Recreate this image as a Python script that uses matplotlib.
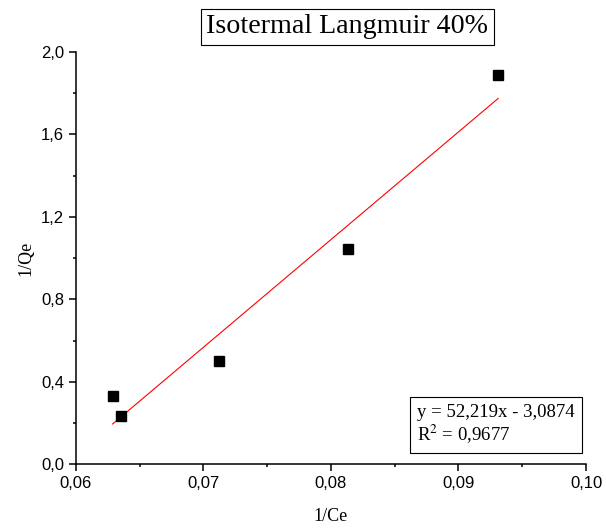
import matplotlib
matplotlib.use("Agg")
import matplotlib.pyplot as plt
import numpy as np
from matplotlib.ticker import MultipleLocator, FuncFormatter

plt.rcParams["mathtext.fontset"] = "stix"

# data
inv_ce = [0.06287, 0.06350, 0.07119, 0.08137, 0.09311]
inv_qe = [0.333, 0.236, 0.503, 1.044, 1.888]

# linear fit shown in the box
slope = 52.219
intercept = -3.0874
r2 = 0.9677

fig = plt.figure(figsize=(6.06, 5.29), dpi=100)
ax = fig.add_axes([0.1254, 0.1223, 0.8416, 0.7794])

ax.plot(inv_ce, inv_qe, "s", color="black", markersize=6.5, zorder=3)

fit_x = np.array([min(inv_ce), max(inv_ce)])
ax.plot(fit_x, slope * fit_x + intercept, color="red", linewidth=0.8)

ax.set_xlim(0.06, 0.10)
ax.set_ylim(0.0, 2.0)
ax.xaxis.set_major_locator(MultipleLocator(0.01))
ax.xaxis.set_minor_locator(MultipleLocator(0.005))
ax.yaxis.set_major_locator(MultipleLocator(0.4))
ax.yaxis.set_minor_locator(MultipleLocator(0.2))
ax.xaxis.set_major_formatter(FuncFormatter(lambda v, p: f"{v:.2f}".replace(".", ",")))
ax.yaxis.set_major_formatter(FuncFormatter(lambda v, p: f"{v:.1f}".replace(".", ",")))

for s in ["top", "right"]:
    ax.spines[s].set_visible(False)
for s in ["left", "bottom"]:
    ax.spines[s].set_linewidth(1.1)

ax.tick_params(which="major", direction="out", length=5, width=1.1)
ax.tick_params(which="minor", direction="out", length=2.5, width=1.1)
for lbl in ax.get_xticklabels() + ax.get_yticklabels():
    lbl.set_fontfamily("Liberation Sans")
    lbl.set_fontsize(12)

ax.set_xlabel("1/Ce", fontfamily="Liberation Serif", fontsize=13, labelpad=12)
ax.set_ylabel("1/Qe", fontfamily="Liberation Serif", fontsize=13, labelpad=5)

fig.text(0.573, 0.949, "Isotermal Langmuir 40%", fontfamily="Liberation Serif",
         fontsize=20.2, ha="center", va="center",
         bbox=dict(boxstyle="square,pad=0.2", facecolor="white", edgecolor="black", linewidth=0.8))

eq = f"y = {slope:.3f}x - {abs(intercept):.4f}".replace(".", ",")
r2_txt = r"R$^2$ = " + f"{r2:.4f}".replace(".", ",")
ax.text(0.978, 0.045, eq + "\n" + r2_txt, transform=ax.transAxes,
        fontfamily="Liberation Serif", fontsize=13.5, ha="right", va="bottom",
        multialignment="left", linespacing=1.1,
        bbox=dict(boxstyle="square,pad=0.4", facecolor="white", edgecolor="black", linewidth=0.8))

plt.savefig("out.png", dpi=100)
